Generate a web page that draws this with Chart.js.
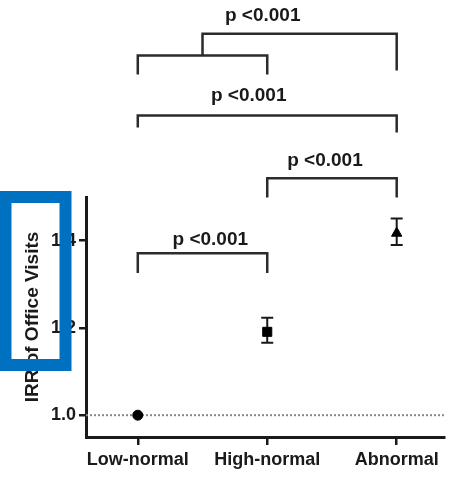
<!DOCTYPE html>
<html>
<head>
<meta charset="utf-8">
<script src="https://cdn.jsdelivr.net/npm/chart.js@4"></script>
<style>
  html, body { margin: 0; padding: 0; background: #fff; }
  #wrap { width: 452px; height: 492px; position: relative; }
</style>
</head>
<body>
<div id="wrap"><canvas id="irrChart"></canvas></div>
<script>
// Groups and incidence rate ratios with 95% CI
const categories = ["Low-normal", "High-normal", "Abnormal"];
const irr = [1.0, 1.191, 1.417];
const ciLow = [1.0, 1.166, 1.39];
const ciHigh = [1.0, 1.223, 1.451];
const markers = ["circle", "rect", "triangle"];
const yTicks = [1.0, 1.2, 1.4];

// Significance brackets (x in group index, y in IRR units)
const bracketFrom = [0, 1, 0, 0, 0.5];
const bracketTo = [1, 2, 2, 1, 2];
const bracketBar = [1.371, 1.543, 1.687, 1.824, 1.874];
const bracketFromEnd = [1.326, 1.499, 1.659, 1.781, 1.824];
const bracketToEnd = [1.326, 1.499, 1.648, 1.781, 1.79];

const pLabels = ["p <0.001", "p <0.001", "p <0.001", "p <0.001"];
const pLabelX = [0.56, 1.446, 0.857, 0.965];
const pLabelY = [1.401, 1.584, 1.733, 1.915];

const FONT = "'Liberation Sans', Arial, Helvetica, sans-serif";
const INK = "#1a1a1a";

Chart.defaults.font.family = FONT;
Chart.defaults.color = INK;

/**
 * Dotted reference line at IRR = 1 plus the CI whiskers
 */
const whiskerPlugin = {
  id: "whiskers",
  beforeDatasetsDraw(chart) {
    const { ctx, chartArea, scales } = chart;
    const x = scales.x;
    const y = scales.y;

    ctx.save();
    ctx.strokeStyle = "#8a8a8a";
    ctx.lineWidth = 2;
    ctx.setLineDash([2, 2]);
    const y1 = y.getPixelForValue(1.0);
    ctx.beginPath();
    ctx.moveTo(chartArea.left, y1);
    ctx.lineTo(chartArea.right, y1);
    ctx.stroke();
    ctx.setLineDash([]);

    ctx.strokeStyle = INK;
    ctx.lineWidth = 2;
    categories.forEach((_, i) => {
      if (ciHigh[i] === ciLow[i]) return;
      const px = x.getPixelForValue(i);
      const top = y.getPixelForValue(ciHigh[i]);
      const bot = y.getPixelForValue(ciLow[i]);
      ctx.beginPath();
      ctx.moveTo(px, top);
      ctx.lineTo(px, bot);
      ctx.moveTo(px - 6, top);
      ctx.lineTo(px + 6, top);
      ctx.moveTo(px - 6, bot);
      ctx.lineTo(px + 6, bot);
      ctx.stroke();
    });
    ctx.restore();
  },
};

/**
 * Comparison brackets, p-value labels and the highlight box on the y title
 */
const annotationPlugin = {
  id: "annotations",
  afterDraw(chart) {
    const { ctx, scales } = chart;
    const x = scales.x;
    const y = scales.y;

    ctx.save();
    ctx.strokeStyle = "#2b2b2b";
    ctx.lineWidth = 2.5;
    ctx.lineJoin = "miter";
    bracketFrom.forEach((from, i) => {
      const xa = x.getPixelForValue(from);
      const xb = x.getPixelForValue(bracketTo[i]);
      const yb = y.getPixelForValue(bracketBar[i]);
      ctx.beginPath();
      ctx.moveTo(xa, y.getPixelForValue(bracketFromEnd[i]));
      ctx.lineTo(xa, yb);
      ctx.lineTo(xb, yb);
      ctx.lineTo(xb, y.getPixelForValue(bracketToEnd[i]));
      ctx.stroke();
    });

    ctx.fillStyle = INK;
    ctx.font = `bold 19px ${FONT}`;
    ctx.textAlign = "center";
    ctx.textBaseline = "middle";
    pLabels.forEach((text, i) => {
      ctx.fillText(text, x.getPixelForValue(pLabelX[i]), y.getPixelForValue(pLabelY[i]));
    });

    // blue highlight frame drawn over the axis title
    ctx.strokeStyle = "#0070c0";
    ctx.lineWidth = 12;
    ctx.strokeRect(5.5, 197, 60, 168);
    ctx.restore();
  },
};

const ctx = document.getElementById("irrChart").getContext("2d");

new Chart(ctx, {
  type: "scatter",
  data: {
    datasets: [
      {
        label: "IRR",
        data: categories.map((_, i) => ({ x: i, y: irr[i] })),
        pointStyle: markers,
        pointRadius: [5, 6.4, 6],
        backgroundColor: "#000",
        borderColor: "#000",
        borderWidth: 1,
      },
    ],
  },
  options: {
    responsive: true,
    maintainAspectRatio: false,
    animation: false,
    layout: { padding: { top: 197, right: 0, left: 0, bottom: 0 } },
    plugins: {
      legend: { display: false },
      tooltip: { enabled: false },
    },
    scales: {
      x: {
        type: "linear",
        min: -0.4,
        max: 2.37,
        afterBuildTicks: (scale) => {
          scale.ticks = categories.map((_, i) => ({ value: i }));
        },
        afterFit: (scale) => {
          scale.height = 55;
        },
        ticks: {
          callback: (value) => categories[value],
          font: { size: 18, weight: "bold" },
          color: INK,
          padding: 4,
          maxRotation: 0,
        },
        grid: {
          display: true,
          drawOnChartArea: false,
          drawTicks: true,
          tickLength: 8,
          lineWidth: 2.5,
          color: INK,
        },
        border: { display: true, color: INK, width: 3 },
      },
      y: {
        min: 0.95,
        max: 1.5,
        afterBuildTicks: (scale) => {
          scale.ticks = yTicks.map((v) => ({ value: v }));
        },
        afterFit: (scale) => {
          scale.width = 86;
        },
        ticks: {
          callback: (value) => value.toFixed(1),
          font: { size: 18, weight: "bold" },
          color: INK,
          padding: 3,
        },
        grid: {
          display: true,
          drawOnChartArea: false,
          drawTicks: true,
          tickLength: 7,
          lineWidth: 2.5,
          color: INK,
        },
        border: { display: true, color: INK, width: 3 },
        title: {
          display: true,
          text: "IRR of Office Visits",
          font: { size: 19, weight: "bold" },
          color: INK,
          padding: { top: 21, bottom: 0 },
        },
      },
    },
  },
  plugins: [whiskerPlugin, annotationPlugin],
});
</script>
</body>
</html>
